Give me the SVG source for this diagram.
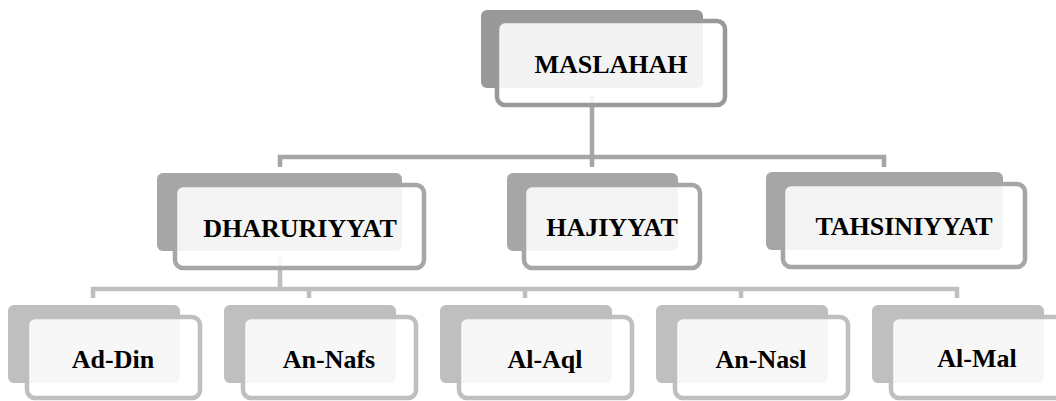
<svg xmlns="http://www.w3.org/2000/svg" width="1056" height="401" viewBox="0 0 1056 401">
<style>
.bg{stroke:none}
.fr{fill:#ffffff;fill-opacity:0.88;stroke-width:4.5}
.l1 .bg{fill:#999999}.l1 .fr{stroke:#999999}
.l2 .bg{fill:#a6a6a6}.l2 .fr{stroke:#a6a6a6}
.l3 .bg{fill:#bfbfbf}.l3 .fr{stroke:#bfbfbf}
text{font-family:"Liberation Serif","Times New Roman",serif;font-weight:bold;font-size:26px;fill:#000;text-anchor:middle}
.c1{fill:none;stroke:#a6a6a6;stroke-width:4.5}
.c2{fill:none;stroke:#bfbfbf;stroke-width:4.5}
</style>
<rect width="1056" height="401" fill="#ffffff"/>
<g id="connectors">
<path class="c1" d="M592,95V167M280,167V157H884V167"/>
<path class="c2" d="M280,257V289M93,298V289H957V298M309,289V298M525,289V298M741,289V298"/>
</g>
<g id="maslahah" class="l1">
<rect class="bg" x="481" y="10" width="222" height="78" rx="6"/>
<rect class="fr" x="497" y="21" width="228" height="84" rx="8"/>
<text x="611" y="73">MASLAHAH</text>
</g>
<g id="dharuriyyat" class="l2">
<rect class="bg" x="157" y="173" width="245" height="78" rx="6"/>
<rect class="fr" x="175" y="185" width="249" height="83" rx="8"/>
<text x="300" y="237">DHARURIYYAT</text>
</g>
<g id="hajiyyat" class="l2">
<rect class="bg" x="507" y="173" width="171" height="78" rx="6"/>
<rect class="fr" x="524" y="185" width="176" height="83" rx="8"/>
<text x="612" y="236">HAJIYYAT</text>
</g>
<g id="tahsiniyyat" class="l2">
<rect class="bg" x="766" y="172" width="237" height="78" rx="6"/>
<rect class="fr" x="783" y="184" width="242" height="83" rx="8"/>
<text x="904" y="235">TAHSINIYYAT</text>
</g>
<g id="ad-din" class="l3">
<rect class="bg" x="8" y="305" width="172" height="78" rx="6"/>
<rect class="fr" x="27" y="317" width="173" height="81" rx="8"/>
<text x="113" y="368">Ad-Din</text>
</g>
<g id="an-nafs" class="l3">
<rect class="bg" x="224" y="305" width="172" height="78" rx="6"/>
<rect class="fr" x="243" y="317" width="173" height="81" rx="8"/>
<text x="329" y="368">An-Nafs</text>
</g>
<g id="al-aql" class="l3">
<rect class="bg" x="440" y="305" width="172" height="78" rx="6"/>
<rect class="fr" x="459" y="317" width="173" height="81" rx="8"/>
<text x="545" y="368">Al-Aql</text>
</g>
<g id="an-nasl" class="l3">
<rect class="bg" x="656" y="305" width="172" height="78" rx="6"/>
<rect class="fr" x="675" y="317" width="173" height="81" rx="8"/>
<text x="761" y="368">An-Nasl</text>
</g>
<g id="al-mal" class="l3">
<rect class="bg" x="872" y="305" width="172" height="78" rx="6"/>
<rect class="fr" x="891" y="317" width="173" height="81" rx="8"/>
<text x="977" y="367">Al-Mal</text>
</g>
</svg>
